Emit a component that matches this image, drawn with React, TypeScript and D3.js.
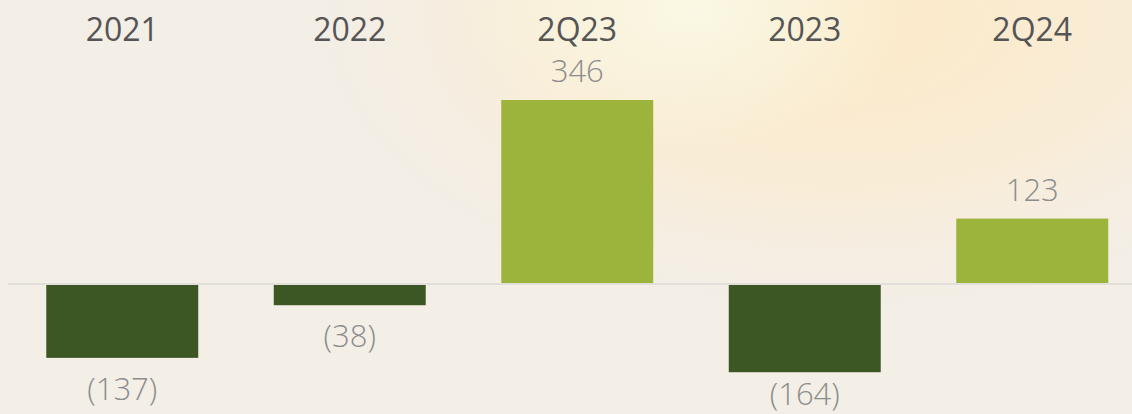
import React from "react";
import * as d3 from "d3";

const categories = ["2021", "2022", "2Q23", "2023", "2Q24"];
const values = [-137, -38, 346, -164, 123];
const valueLabels = ["(137)", "(38)", "346", "(164)", "123"];

const W = 1132;
const H = 414;

export default function App() {
  const x = d3.scaleBand<string>().domain(categories).range([8.5, 1146]).paddingInner(0.332).paddingOuter(0.166);
  const y = d3.scaleLinear().domain([0, 346]).range([284, 100]);
  const font = "'Open Sans', 'Noto Sans', sans-serif";
  return (
    <div style={{ position: "absolute", left: 0, top: 0 }}>
      <svg width={W} height={H} style={{ display: "block" }}>
        <defs>
          <radialGradient id="glowPeach" cx={840} cy={20} r={560} gradientUnits="userSpaceOnUse" gradientTransform="translate(840 20) scale(1 0.55) translate(-840 -20)">
            <stop offset="0" stopColor="#fce9c6" stopOpacity={1} />
            <stop offset="0.55" stopColor="#fbecd2" stopOpacity={0.75} />
            <stop offset="1" stopColor="#f4eee6" stopOpacity={0} />
          </radialGradient>
          <radialGradient id="glowYellow" cx={690} cy={10} r={230} gradientUnits="userSpaceOnUse" gradientTransform="translate(690 10) scale(1 0.6) translate(-690 -10)">
            <stop offset="0" stopColor="#faf8e4" stopOpacity={1} />
            <stop offset="0.6" stopColor="#f9f5e0" stopOpacity={0.6} />
            <stop offset="1" stopColor="#f9f5e0" stopOpacity={0} />
          </radialGradient>
        </defs>
        <rect x={0} y={0} width={W} height={H} fill="#f3eee6" />
        <rect x={0} y={0} width={W} height={H} fill="url(#glowPeach)" />
        <rect x={0} y={0} width={W} height={H} fill="url(#glowYellow)" />
        <line x1={8} x2={W} y1={284} y2={284} stroke="#dcdad6" strokeWidth={1.6} />
        {categories.map((c, i) => {
          const v = values[i];
          const bx = x(c)!;
          const bw = x.bandwidth();
          const top = v >= 0 ? y(v) : 285;
          const h = v >= 0 ? 283 - y(v) : y(0) - y(-v);
          const cx = bx + bw / 2;
          const negBottom = 285 + (y(0) - y(-v));
          const labelY = v >= 0 ? y(v) - 18 : Math.min(negBottom + 42, 405);
          return (
            <g key={c}>
              <rect x={bx} y={top} width={bw} height={Math.abs(h)} fill={v >= 0 ? "#9cb43b" : "#3c5723"} />
              <text x={cx} y={41} textAnchor="middle" fontFamily={font} fontSize={32} fontWeight={400} fill="#555555">{c}</text>
              <text x={cx} y={labelY} textAnchor="middle" fontFamily={font} fontSize={31} fontWeight={300} fill="#8c8c8c">{valueLabels[i]}</text>
            </g>
          );
        })}
      </svg>
    </div>
  );
}
